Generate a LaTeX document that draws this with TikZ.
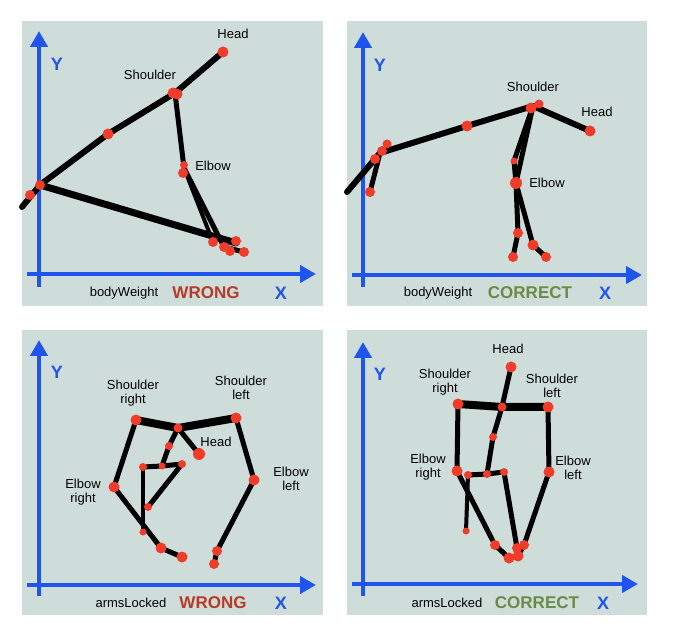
\documentclass[tikz,border=0pt]{standalone}
\usepackage{fontspec}
\setmainfont{Liberation Sans}
\usetikzlibrary{arrows.meta}
\definecolor{bg}{HTML}{CEDDD9}
\definecolor{axblue}{HTML}{1F55EE}
\definecolor{dotred}{HTML}{F03C28}
\definecolor{wrongred}{HTML}{B83A26}
\definecolor{okgreen}{HTML}{6B8A45}
\tikzset{
 panel/.style={fill=bg,draw=none},
 axis/.style={draw=axblue,line width=4pt,-{Triangle[length=16pt,width=17pt]}},
 bone/.style={line width=6pt,line cap=round,line join=round},
 bar/.style={line width=8pt,line cap=round,line join=round},
 lbl/.style={font=\fontsize{13}{14}\selectfont,align=center,inner sep=0pt},
 axlbl/.style={font=\fontsize{18}{18}\selectfont\bfseries,text=axblue,inner sep=0pt},
 wrong/.style={font=\fontsize{17}{17}\selectfont\bfseries,text=wrongred,inner sep=0pt},
 right/.style={font=\fontsize{17}{17}\selectfont\bfseries,text=okgreen,inner sep=0pt},
}
\newcommand{\dotat}[3]{\coordinate (#1) at (#2); \fill[dotred] (#1) circle (#3pt);}
\begin{document}
\begin{tikzpicture}[x=1pt,y=-1pt]
\useasboundingbox (0,0) rectangle (673,639);
% panels
\fill[panel] (22,21) rectangle (323,306);
\fill[panel] (347,21) rectangle (647,306);
\fill[panel] (22,330) rectangle (323,615);
\fill[panel] (347,330) rectangle (647,615);
% axes
\coordinate (a1o) at (39,287); \coordinate (a1y) at (39,31);
\coordinate (a1s) at (27,274); \coordinate (a1x) at (316,274);
\draw[axis] (a1o) -- (a1y); \draw[axis] (a1s) -- (a1x);
\coordinate (a2o) at (363,287); \coordinate (a2y) at (363,32);
\coordinate (a2s) at (352,275); \coordinate (a2x) at (642,275);
\draw[axis] (a2o) -- (a2y); \draw[axis] (a2s) -- (a2x);
\coordinate (a3o) at (39,596); \coordinate (a3y) at (39,340);
\coordinate (a3s) at (27,585); \coordinate (a3x) at (316,585);
\draw[axis] (a3o) -- (a3y); \draw[axis] (a3s) -- (a3x);
\coordinate (a4o) at (363,596); \coordinate (a4y) at (363,342);
\coordinate (a4s) at (352,584); \coordinate (a4x) at (638,584);
\draw[axis] (a4o) -- (a4y); \draw[axis] (a4s) -- (a4x);
\node[axlbl] (y1) at (57,64) {Y}; \node[axlbl] (x1) at (281,293) {X};
\node[axlbl] (y2) at (380,65) {Y}; \node[axlbl] (x2) at (605,293) {X};
\node[axlbl] (y3) at (57,372) {Y}; \node[axlbl] (x3) at (281,603) {X};
\node[axlbl] (y4) at (380,374) {Y}; \node[axlbl] (x4) at (603,603) {X};
\node[lbl] (c1) at (124,293) {bodyWeight}; \node[wrong] (w1) at (206,293) {WRONG};
\node[lbl] (c2) at (438,293) {bodyWeight}; \node[right] (w2) at (530,293) {CORRECT};
\node[lbl] (c3) at (131,603) {armsLocked}; \node[wrong] (w3) at (213,603) {WRONG};
\node[lbl] (c4) at (447,603) {armsLocked}; \node[right] (w4) at (537,603) {CORRECT};
% ---------- panel 1
\coordinate (p1e) at (22,207);
\coordinate (p1h) at (223,52); \coordinate (p1s) at (175,93); \coordinate (p1m) at (108,134);
\coordinate (p1l) at (40,185); \coordinate (p1el) at (184,168);
\coordinate (p1b1) at (213,242); \coordinate (p1b2) at (224,247); \coordinate (p1b3) at (236,243); \coordinate (p1b4) at (244,252);
\draw[bone] (p1h) -- (p1s) -- (p1m) -- (p1l) -- (p1e);
\draw[bone,line width=7pt] (p1l) -- (p1b3);
\draw[bone,line width=5pt] (p1s) -- (p1el) -- (p1b2) -- (p1b4);
\draw[bone,line width=4pt] (p1el) -- (p1b1);
\dotat{q1}{223,52}{5.5} \dotat{q2}{173,93}{5.5} \dotat{q3}{177,94}{5.5} \dotat{q4}{108,134}{5.5}
\dotat{q5}{40,185}{5} \dotat{q6}{30,195}{5} \dotat{q7}{184,165}{4} \dotat{q8}{183,173}{5}
\dotat{q9}{213,242}{5} \dotat{q10}{224,247}{5} \dotat{q11}{230,251}{5} \dotat{q12}{236,241}{5} \dotat{q13}{244,252}{5}
\node[lbl] (l1h) at (233,34) {Head}; \node[lbl] (l1s) at (150,75) {Shoulder}; \node[lbl] (l1e) at (213,166) {Elbow};
% ---------- panel 2
\coordinate (p2e) at (347,192); \coordinate (p2l) at (380,153); \coordinate (p2l2) at (370,192);
\coordinate (p2s) at (533,106); \coordinate (p2h) at (590,131); \coordinate (p2m) at (467,126);
\coordinate (p2se) at (514,161); \coordinate (p2el) at (516,183);
\coordinate (p2f1) at (518,233); \coordinate (p2f2) at (513,257); \coordinate (p2g1) at (533,245); \coordinate (p2g2) at (546,257);
\draw[bone] (p2e) -- (p2l) -- (p2m) -- (p2s) -- (p2h);
\draw[bone,line width=5pt] (p2l2) -- (p2l);
\draw[bone,line width=5pt] (p2s) -- (p2se) -- (p2el) -- (p2f1) -- (p2f2);
\draw[bone,line width=5pt] (p2s) -- (p2el) -- (p2g1) -- (p2g2);
\dotat{r1}{531,108}{5.5} \dotat{r2}{539,104}{4.5} \dotat{r3}{590,131}{5.5} \dotat{r4}{467,126}{5.5}
\dotat{r5}{387,144}{4.5} \dotat{r6}{382,151}{5} \dotat{r7}{375,159}{5} \dotat{r8}{370,192}{5}
\dotat{r9}{514,161}{3.5} \dotat{r10}{516,183}{6} \dotat{r11}{518,233}{5} \dotat{r12}{513,257}{5} \dotat{r13}{533,245}{5.5} \dotat{r14}{546,257}{5}
\node[lbl] (l2s) at (533,87) {Shoulder}; \node[lbl] (l2h) at (597,112) {Head}; \node[lbl] (l2e) at (547,183) {Elbow};
% ---------- panel 3
\coordinate (s3r) at (136,420); \coordinate (s3n) at (178,428); \coordinate (s3l) at (236,418);
\coordinate (s3h) at (199,454); \coordinate (s3a) at (169,446); \coordinate (s3b) at (162,466);
\coordinate (s3c) at (143,467); \coordinate (s3d) at (182,464); \coordinate (s3e) at (148,507);
\coordinate (s3f) at (143,532); \coordinate (s3er) at (114,487); \coordinate (s3g) at (161,548);
\coordinate (s3i) at (182,557); \coordinate (s3el) at (254,480); \coordinate (s3j) at (217,551); \coordinate (s3k) at (214,564);
\draw[bar] (s3r) -- (s3n) -- (s3l);
\draw[bone,line width=5pt] (s3n) -- (s3h);
\draw[bone,line width=5pt] (s3n) -- (s3a) -- (s3b);
\draw[bone,line width=5pt] (s3c) -- (s3b) -- (s3d) -- (s3e);
\draw[bone,line width=4pt] (s3c) -- (s3f);
\draw[bone,line width=5pt] (s3r) -- (s3er) -- (s3g) -- (s3i);
\draw[bone,line width=5pt] (s3l) -- (s3el) -- (s3j) -- (s3k);
\foreach \n/\r in {s3r/5.5,s3n/4.5,s3l/5.5,s3h/6,s3a/4,s3b/3.5,s3c/4,s3d/4,s3e/4,s3f/3.5,s3er/5.5,s3g/5.5,s3i/5.5,s3el/5.5,s3j/5,s3k/5}
  \fill[dotred] (\n) circle (\r pt);
\node[lbl] (l3sr) at (133,393) {Shoulder\\right}; \node[lbl] (l3sl) at (241,388) {Shoulder\\left};
\node[lbl] (l3h) at (216,442) {Head}; \node[lbl] (l3er) at (83,492) {Elbow\\right}; \node[lbl] (l3el) at (291,479) {Elbow\\left};
% ---------- panel 4
\coordinate (s4h) at (511,367); \coordinate (s4r) at (458,404); \coordinate (s4n) at (502,407);
\coordinate (s4l) at (548,407); \coordinate (s4a) at (493,437); \coordinate (s4er) at (457,471);
\coordinate (s4c) at (468,475); \coordinate (s4b) at (487,474); \coordinate (s4d) at (504,472);
\coordinate (s4f) at (466,531); \coordinate (s4el) at (549,472); \coordinate (s4g) at (495,545);
\coordinate (s4i) at (509,558); \coordinate (s4j) at (518,556); \coordinate (s4k) at (517,548); \coordinate (s4m) at (524,545);
\draw[bar] (s4r) -- (s4n) -- (s4l);
\draw[bone,line width=5pt] (s4h) -- (s4n) -- (s4a) -- (s4b);
\draw[bone,line width=5pt] (s4c) -- (s4b) -- (s4d) -- (s4k);
\draw[bone,line width=4pt] (s4c) -- (s4f);
\draw[bone,line width=5pt] (s4r) -- (s4er) -- (s4g) -- (s4i) -- (s4j);
\draw[bone,line width=5pt] (s4l) -- (s4el) -- (s4m) -- (s4j);
\foreach \n/\r in {s4h/5.5,s4r/5.5,s4n/4.5,s4l/5.5,s4a/4,s4er/5.5,s4c/4,s4b/4,s4d/4,s4f/3.5,s4el/5.5,s4g/5,s4i/5.5,s4j/5.5,s4k/5,s4m/5}
  \fill[dotred] (\n) circle (\r pt);
\node[lbl] (l4h) at (508,349) {Head}; \node[lbl] (l4sr) at (445,382) {Shoulder\\right};
\node[lbl] (l4sl) at (552,386) {Shoulder\\left}; \node[lbl] (l4er) at (428,467) {Elbow\\right}; \node[lbl] (l4el) at (573,468) {Elbow\\left};
\end{tikzpicture}
\end{document}
